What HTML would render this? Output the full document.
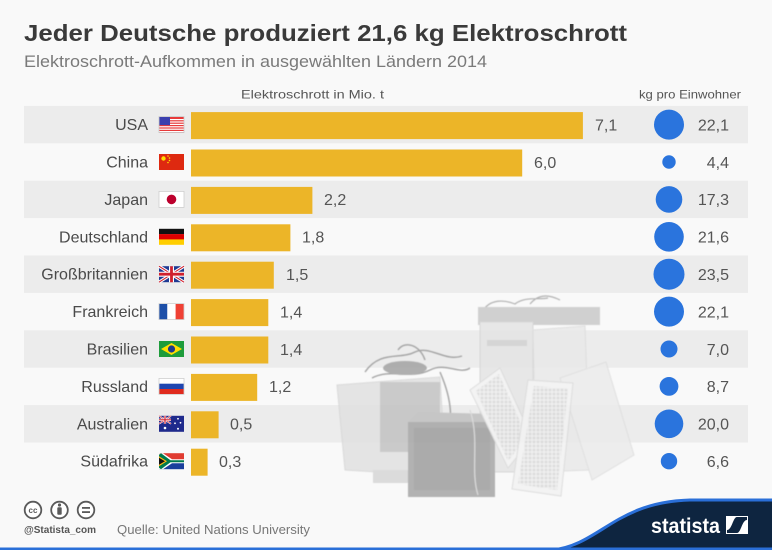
<!DOCTYPE html>
<html><head><meta charset="utf-8"><style>
html,body{margin:0;padding:0;background:#f9f9f9;}
svg{display:block;}
text{font-family:"Liberation Sans",sans-serif;}
</style></head><body>
<svg width="772" height="550" viewBox="0 0 772 550" xmlns="http://www.w3.org/2000/svg">
<defs>
<pattern id="keys" width="4" height="4" patternUnits="userSpaceOnUse"><rect width="4" height="4" fill="#f2f2f2"/><rect x="0.5" y="0.5" width="3" height="3" fill="#dadada"/></pattern>
<filter id="soft" x="-5%" y="-5%" width="110%" height="110%"><feGaussianBlur stdDeviation="0.6"/></filter>
</defs>
<rect width="772" height="550" fill="#f9f9f9"/>
<!-- title -->
<text x="24" y="41" font-size="23" font-weight="bold" fill="#3a3a3a" textLength="603" lengthAdjust="spacingAndGlyphs">Jeder Deutsche produziert 21,6 kg Elektroschrott</text>
<text x="24" y="67" font-size="16.5" fill="#7a7a7a" textLength="463" lengthAdjust="spacingAndGlyphs">Elektroschrott-Aufkommen in ausgewählten Ländern 2014</text>
<text x="241" y="98.5" font-size="12" fill="#555" textLength="143" lengthAdjust="spacingAndGlyphs">Elektroschrott in Mio. t</text>
<text x="639" y="98.5" font-size="12" fill="#555" textLength="102" lengthAdjust="spacingAndGlyphs">kg pro Einwohner</text>
<!-- bands -->
<g fill="#ececec">
<rect x="24" y="105.9" width="724" height="37.4"/>
<rect x="24" y="180.7" width="724" height="37.4"/>
<rect x="24" y="255.5" width="724" height="37.4"/>
<rect x="24" y="330.3" width="724" height="37.4"/>
<rect x="24" y="405.1" width="724" height="37.4"/>
</g>
<!-- e-waste image approximation -->
<g opacity="0.85" filter="url(#soft)">
<path d="M482 312 C490 298,505 300,515 304 C525 296,540 300,548 298 M530 304 C540 292,552 296,560 300" stroke="#a5a5a5" stroke-width="1.2" fill="none"/>
<polygon points="478,307 600,307 600,325 478,325" fill="#c9c9c9"/>
<rect x="480" y="322" width="53" height="150" fill="#e4e4e4" stroke="#d2d2d2"/>
<rect x="487" y="340" width="40" height="6" fill="#d2d2d2"/>
<polygon points="533,330 585,326 590,470 536,472" fill="#e9e9e9" stroke="#dadada"/>
<polygon points="560,378 606,362 634,455 592,480" fill="#ebebeb" stroke="#dcdcdc"/>
<polygon points="337,385 440,377 446,476 345,470" fill="#e1e1e1" stroke="#d4d4d4"/>
<rect x="380" y="382" width="60" height="70" fill="#c2c2c2"/>
<rect x="373" y="470" width="38" height="13" fill="#d6d6d6"/>
<path d="M365 372 C380 350,400 360,415 352 C430 345,445 362,462 356 M372 378 C390 368,410 380,430 370 C445 362,460 375,470 368 M398 350 C405 340,420 345,425 360 M440 372 C450 395,455 420,445 440" stroke="#959595" stroke-width="1.4" fill="none"/>
<ellipse cx="405" cy="368" rx="22" ry="7" fill="#a3a3a3"/>
<polygon points="408,422 418,412 495,414 495,424" fill="#c0c0c0"/>
<rect x="408" y="422" width="87" height="75" fill="#a6a6a6"/>
<rect x="414" y="428" width="76" height="62" fill="#9e9e9e"/>
<path d="M470 410 C480 440,470 470,478 495" stroke="#d8d8d8" stroke-width="1.2" fill="none"/>
<polygon points="470,390 500,368 532,438 508,468" fill="#f2f2f2" stroke="#d8d8d8"/>
<polygon points="476,391 499,374 527,437 508,461" fill="url(#keys)"/>
<polygon points="528,380 573,383 561,496 512,489" fill="#f2f2f2" stroke="#d8d8d8"/>
<polygon points="534,386 568,389 557,490 518,484" fill="url(#keys)"/>
</g>
<!-- rows -->
<g font-size="16" fill="#4a4a4a" text-anchor="end">
<text x="148" y="130.1">USA</text>
<text x="148" y="167.5">China</text>
<text x="148" y="204.9">Japan</text>
<text x="148" y="242.3">Deutschland</text>
<text x="148" y="279.7">Großbritannien</text>
<text x="148" y="317.1">Frankreich</text>
<text x="148" y="354.5">Brasilien</text>
<text x="148" y="391.9">Russland</text>
<text x="148" y="429.3">Australien</text>
<text x="148" y="466.7">Südafrika</text>
</g>
<!-- flags -->
<g>
<g transform="translate(159,116.6)">
<rect width="25" height="16" fill="#e83a3a"/>
<g fill="#fff"><rect y="2.4" width="25" height="1.2"/><rect y="4.8" width="25" height="1.2"/><rect y="7.2" width="25" height="1.2"/><rect y="9.6" width="25" height="1.2"/><rect y="12" width="25" height="1.2"/><rect y="14.4" width="25" height="1.2"/></g>
<rect width="11" height="8.5" fill="#3b3fae"/>
<rect width="25" height="16" fill="none" stroke="#c8c8c8" stroke-width="0.8"/>
</g>
<g transform="translate(159,154)">
<rect width="25" height="16" fill="#de2910"/>
<circle cx="4.5" cy="4.5" r="2.2" fill="#ffde00"/>
<circle cx="9" cy="2" r="0.8" fill="#ffde00"/><circle cx="10.5" cy="4" r="0.8" fill="#ffde00"/><circle cx="10.5" cy="6.5" r="0.8" fill="#ffde00"/><circle cx="9" cy="8.5" r="0.8" fill="#ffde00"/>
</g>
<g transform="translate(159,191.4)">
<rect width="25" height="16" fill="#fff" stroke="#cfcfcf" stroke-width="0.8"/>
<circle cx="12.5" cy="8" r="4.8" fill="#bc002d"/>
</g>
<g transform="translate(159,228.8)">
<rect width="25" height="5.4" fill="#111"/>
<rect y="5.3" width="25" height="5.4" fill="#dd0000"/>
<rect y="10.6" width="25" height="5.4" fill="#ffce00"/>
</g>
<g transform="translate(159,266.2)">
<rect width="25" height="16" fill="#1f3a93"/>
<path d="M0 0 L25 16 M25 0 L0 16" stroke="#fff" stroke-width="3.2"/>
<path d="M0 0 L25 16 M25 0 L0 16" stroke="#d0202e" stroke-width="1.1"/>
<path d="M12.5 0 V16 M0 8 H25" stroke="#fff" stroke-width="5"/>
<path d="M12.5 0 V16 M0 8 H25" stroke="#d0202e" stroke-width="2.8"/>
</g>
<g transform="translate(159,303.6)">
<rect width="8.4" height="16" fill="#1d4fa8"/>
<rect x="8.3" width="8.4" height="16" fill="#fff"/>
<rect x="16.6" width="8.4" height="16" fill="#ef4135"/>
<rect width="25" height="16" fill="none" stroke="#cfcfcf" stroke-width="0.8"/>
</g>
<g transform="translate(159,341)">
<rect width="25" height="16" fill="#1e9c3b"/>
<polygon points="12.5,2 23,8 12.5,14 2,8" fill="#ffdf00"/>
<circle cx="12.5" cy="8" r="3.6" fill="#1e3a8a"/>
</g>
<g transform="translate(159,378.4)">
<rect width="25" height="5.4" fill="#fff"/>
<rect y="5.3" width="25" height="5.4" fill="#1f46b0"/>
<rect y="10.6" width="25" height="5.4" fill="#e02b1e"/>
<rect width="25" height="16" fill="none" stroke="#cfcfcf" stroke-width="0.8"/>
</g>
<g transform="translate(159,415.8)">
<rect width="25" height="16" fill="#1f2a8c"/>
<path d="M0 0 L12 8 M12 0 L0 8" stroke="#fff" stroke-width="1.6"/>
<path d="M0 0 L12 8 M12 0 L0 8" stroke="#d0202e" stroke-width="0.6"/>
<path d="M6 0 V8 M0 4 H12" stroke="#fff" stroke-width="2.4"/>
<path d="M6 0 V8 M0 4 H12" stroke="#d0202e" stroke-width="1.2"/>
<g fill="#fff"><circle cx="6" cy="12.2" r="1.3"/><circle cx="19" cy="3" r="0.9"/><circle cx="16" cy="7.5" r="0.9"/><circle cx="21.5" cy="7" r="0.9"/><circle cx="19" cy="13" r="1"/></g>
</g>
<g transform="translate(159,453.2)">
<rect width="25" height="8" fill="#e03c31"/>
<rect y="8" width="25" height="8" fill="#1a3f9c"/>
<polygon points="0,0 4,0 13,6 25,6 25,10 13,10 4,16 0,16" fill="#fff"/>
<polygon points="0,1.5 2,0 11.5,7 25,7 25,9 11.5,9 2,16 0,14.5" fill="#007a4d"/>
<polygon points="0,3 8,8 0,13" fill="#ffb612"/>
<polygon points="0,4.5 6,8 0,11.5" fill="#111"/>
</g>
</g>
<!-- bars -->
<g fill="#ecb528">
<rect x="191" y="112.1" width="391.9" height="27"/>
<rect x="191" y="149.5" width="331.2" height="27"/>
<rect x="191" y="186.9" width="121.4" height="27"/>
<rect x="191" y="224.3" width="99.4" height="27"/>
<rect x="191" y="261.7" width="82.8" height="27"/>
<rect x="191" y="299.1" width="77.3" height="27"/>
<rect x="191" y="336.5" width="77.3" height="27"/>
<rect x="191" y="373.9" width="66.2" height="27"/>
<rect x="191" y="411.3" width="27.6" height="27"/>
<rect x="191" y="448.7" width="16.6" height="27"/>
</g>
<g font-size="16" fill="#555">
<text x="595" y="130.4">7,1</text>
<text x="534" y="167.8">6,0</text>
<text x="324" y="205.2">2,2</text>
<text x="302" y="242.6">1,8</text>
<text x="286" y="280">1,5</text>
<text x="280" y="317.4">1,4</text>
<text x="280" y="354.8">1,4</text>
<text x="269" y="392.2">1,2</text>
<text x="230" y="429.6">0,5</text>
<text x="219" y="467">0,3</text>
</g>
<!-- circles -->
<g fill="#2a74dd">
<circle cx="669" cy="124.6" r="15"/>
<circle cx="669" cy="162" r="6.7"/>
<circle cx="669" cy="199.4" r="13.3"/>
<circle cx="669" cy="236.8" r="14.8"/>
<circle cx="669" cy="274.2" r="15.5"/>
<circle cx="669" cy="311.6" r="15"/>
<circle cx="669" cy="349" r="8.5"/>
<circle cx="669" cy="386.4" r="9.4"/>
<circle cx="669" cy="423.8" r="14.3"/>
<circle cx="669" cy="461.2" r="8.2"/>
</g>
<g font-size="16" fill="#555" text-anchor="end">
<text x="729" y="130.4">22,1</text>
<text x="729" y="167.8">4,4</text>
<text x="729" y="205.2">17,3</text>
<text x="729" y="242.6">21,6</text>
<text x="729" y="280">23,5</text>
<text x="729" y="317.4">22,1</text>
<text x="729" y="354.8">7,0</text>
<text x="729" y="392.2">8,7</text>
<text x="729" y="429.6">20,0</text>
<text x="729" y="467">6,6</text>
</g>
<!-- footer left -->
<g stroke="#5a5a5a" stroke-width="1.8" fill="#fff">
<circle cx="33" cy="510" r="8.3"/>
<circle cx="59.5" cy="510" r="8.3"/>
<circle cx="86" cy="510" r="8.3"/>
</g>
<text x="33" y="513" font-size="8" font-weight="bold" fill="#5a5a5a" text-anchor="middle">cc</text>
<circle cx="59.5" cy="505" r="1.6" fill="#5a5a5a"/>
<rect x="57.3" y="507.3" width="4.4" height="7.5" rx="1" fill="#5a5a5a"/>
<rect x="82" y="507" width="8" height="1.8" fill="#5a5a5a"/>
<rect x="82" y="511.2" width="8" height="1.8" fill="#5a5a5a"/>
<text x="24" y="533" font-size="10" font-weight="bold" fill="#555" textLength="72" lengthAdjust="spacingAndGlyphs">@Statista_com</text>
<text x="117" y="534" font-size="13" fill="#777" textLength="193" lengthAdjust="spacingAndGlyphs">Quelle: United Nations University</text>
<!-- statista footer -->
<path d="M552 550 C600 545,615 502,690 500 L772 500 L772 550 Z" fill="#0e2540"/>
<path d="M552 550 C600 545,615 502,690 500 L772 500" fill="none" stroke="#2a6fd8" stroke-width="3"/>
<rect x="0" y="547.5" width="772" height="2.5" fill="#2a6fd8"/>
<text x="651" y="533" font-size="21" font-weight="bold" fill="#fff" textLength="69" lengthAdjust="spacingAndGlyphs">statista</text>
<rect x="726" y="516" width="22" height="18" fill="#fff"/>
<path d="M727 533 L737 533 C741 533,742 520,747 520 L747 517 L737 517 C733 517,732 530,727 530 Z" fill="#0e2540"/>
</svg>
</body></html>
